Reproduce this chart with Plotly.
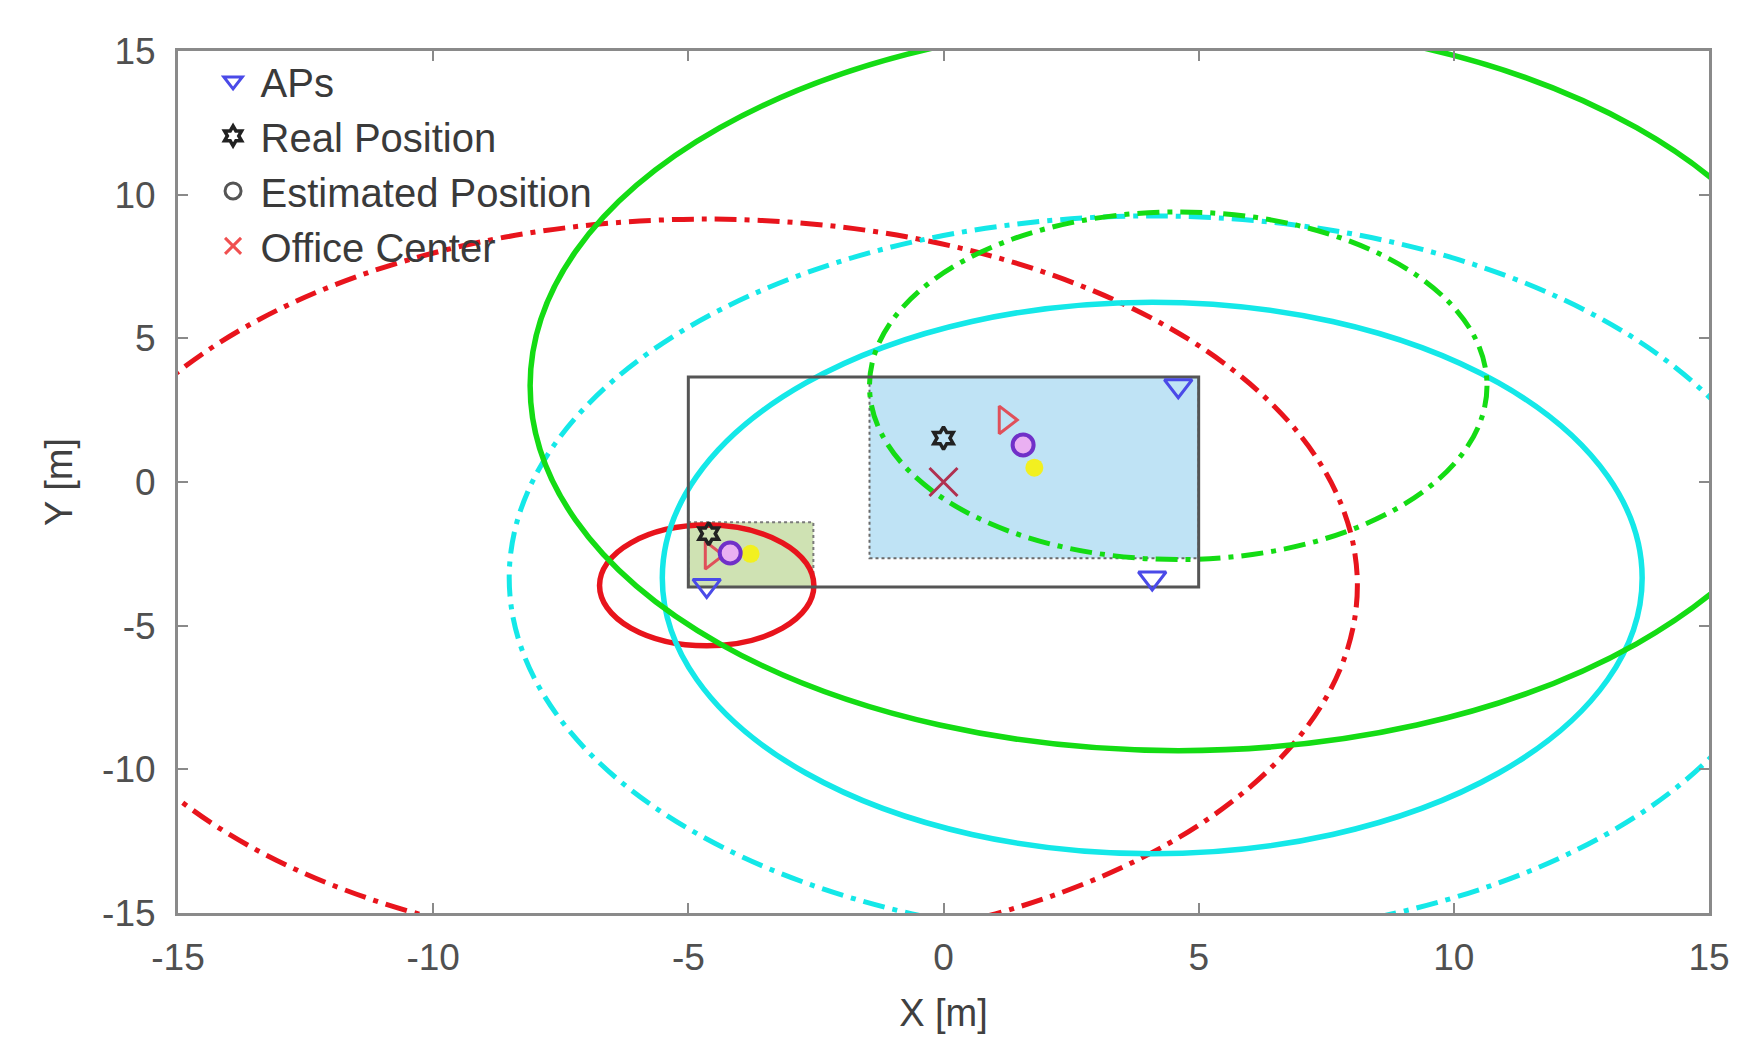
import plotly.graph_objects as go

# ---------------- data ----------------
ap_x = [4.6, 4.09, -4.64]
ap_y = [3.35, -3.34, -3.6]

# circles: centre index into APs, radius, style
circle_ap = [2, 2, 1, 1, 0, 0]
circle_r = [2.1, 12.75, 9.6, 12.6, 12.7, 6.05]
circle_color = ["#e8141c", "#e8141c", "#14e8e8", "#14e8e8", "#14dc14", "#14dc14"]
circle_dash = ["solid", "dashdot", "solid", "dashdot", "solid", "dashdot"]

real_x = [0.0, -4.6]
real_y = [1.53, -1.8]
est_x = [1.56, -4.18]
est_y = [1.29, -2.47]
center_x = [0.0]
center_y = [0.0]
tri_x = [1.21, -4.55]
tri_y = [2.16, -2.55]
yellow_x = [1.78, -3.78]
yellow_y = [0.5, -2.5]

office_rect = [-5.0, -3.65, 5.0, 3.65]
room_big = [-1.45, -2.65, 5.0, 3.65]
room_small = [-5.0, -3.65, -2.55, -1.4]

x_ticks = [-15, -10, -5, 0, 5, 10, 15]
y_ticks = [-15, -10, -5, 0, 5, 10, 15]

# ---------------- figure ----------------
fig = go.Figure()
shapes = []

# room fills with dotted borders
shapes.append(dict(type="rect", xref="x", yref="y", layer="below",
                   x0=room_big[0], y0=room_big[1], x1=room_big[2], y1=room_big[3],
                   fillcolor="#bfe3f5", line=dict(color="#6a6a6a", width=2, dash="dot")))
shapes.append(dict(type="rect", xref="x", yref="y", layer="below",
                   x0=room_small[0], y0=room_small[1], x1=room_small[2], y1=room_small[3],
                   fillcolor="#cfe2b3", line=dict(color="#7a7a7a", width=2, dash="dot")))

dashmap = {"solid": "solid", "dashdot": "22px,8px,5px,8px"}
widthmap = {"solid": 5.5, "dashdot": 5}
for k in range(len(circle_r)):
    cx = ap_x[circle_ap[k]]
    cy = ap_y[circle_ap[k]]
    r = circle_r[k]
    shapes.append(dict(type="circle", xref="x", yref="y", layer="below",
                       x0=cx - r, x1=cx + r, y0=cy - r, y1=cy + r,
                       line=dict(color=circle_color[k], width=widthmap[circle_dash[k]],
                                 dash=dashmap[circle_dash[k]])))

shapes.append(dict(type="rect", xref="x", yref="y", layer="below",
                   x0=office_rect[0], y0=office_rect[1], x1=office_rect[2], y1=office_rect[3],
                   line=dict(color="#555555", width=3)))

# plot markers
fig.add_trace(go.Scatter(x=yellow_x, y=yellow_y, mode="markers", showlegend=False,
                         marker=dict(symbol="circle", size=18, color="#f2f020", line=dict(width=0))))
fig.add_trace(go.Scatter(x=tri_x, y=tri_y, mode="markers", showlegend=False,
                         marker=dict(symbol="triangle-right-open", size=24, color="#e0505a",
                                     line=dict(width=3, color="#e0505a"))))
fig.add_trace(go.Scatter(x=est_x, y=est_y, mode="markers", showlegend=False,
                         marker=dict(symbol="circle", size=21, color="#eab0f2",
                                     line=dict(width=4, color="#7030c8"))))
fig.add_trace(go.Scatter(x=real_x, y=real_y, mode="markers", showlegend=False,
                         marker=dict(symbol="hexagram-open", size=17, color="#222222",
                                     line=dict(width=3.5, color="#222222"))))
fig.add_trace(go.Scatter(x=center_x, y=center_y, mode="markers", showlegend=False,
                         marker=dict(symbol="x-thin-open", size=28, color="#b03050",
                                     line=dict(width=3, color="#b03050"))))
fig.add_trace(go.Scatter(x=ap_x, y=ap_y, mode="markers", showlegend=False,
                         marker=dict(symbol="triangle-down-open", size=24, color="#4a4ae8",
                                     line=dict(width=3, color="#4a4ae8"))))

# legend entries
fig.add_trace(go.Scatter(x=[None], y=[None], mode="markers", name="APs",
                         marker=dict(symbol="triangle-down-open", size=24, color="#4a4ae8",
                                     line=dict(width=3, color="#4a4ae8"))))
fig.add_trace(go.Scatter(x=[None], y=[None], mode="markers", name="Real Position",
                         marker=dict(symbol="hexagram-open", size=15, color="#222222",
                                     line=dict(width=3.5, color="#222222"))))
fig.add_trace(go.Scatter(x=[None], y=[None], mode="markers", name="Estimated Position",
                         marker=dict(symbol="circle-open", size=18, color="#555555",
                                     line=dict(width=3, color="#555555"))))
fig.add_trace(go.Scatter(x=[None], y=[None], mode="markers", name="Office Center",
                         marker=dict(symbol="x-thin-open", size=18, color="#f05050",
                                     line=dict(width=3, color="#f05050"))))

axis_common = dict(showgrid=False, zeroline=False, showline=True, linecolor="#8a8a8a",
                   linewidth=3, mirror="ticks", ticks="inside", ticklen=10, tickwidth=2,
                   tickcolor="#8a8a8a", automargin=False,
                   tickfont=dict(family="Liberation Sans, Arial", size=37, color="#505050"))

# the page body adds an 8 px offset, so the figure is 8 px smaller on each axis
fig.update_layout(
    width=1740, height=1029,
    margin=dict(l=170, r=39, t=43, b=124),
    paper_bgcolor="white", plot_bgcolor="white",
    shapes=shapes,
    showlegend=True,
    legend=dict(x=0.018, y=1.003, xanchor="left", yanchor="top",
                bgcolor="rgba(255,255,255,0)", borderwidth=0,
                font=dict(family="Liberation Sans, Arial", size=40, color="#3a3a3a"),
                itemsizing="trace", itemwidth=45, tracegroupgap=0),
    xaxis=dict(range=[-15, 15], tickvals=x_ticks, ticktext=[str(v) for v in x_ticks],
               ticklabelstandoff=10,
               title=dict(text="X [m]", standoff=22,
                          font=dict(family="Liberation Sans, Arial", size=38, color="#404040")),
               **axis_common),
    yaxis=dict(range=[-15, 15], tickvals=y_ticks, ticktext=[str(v) for v in y_ticks],
               ticklabelstandoff=12,
               title=dict(text="Y [m]", standoff=18,
                          font=dict(family="Liberation Sans, Arial", size=38, color="#404040")),
               **axis_common),
)

fig.write_html("out.html")
